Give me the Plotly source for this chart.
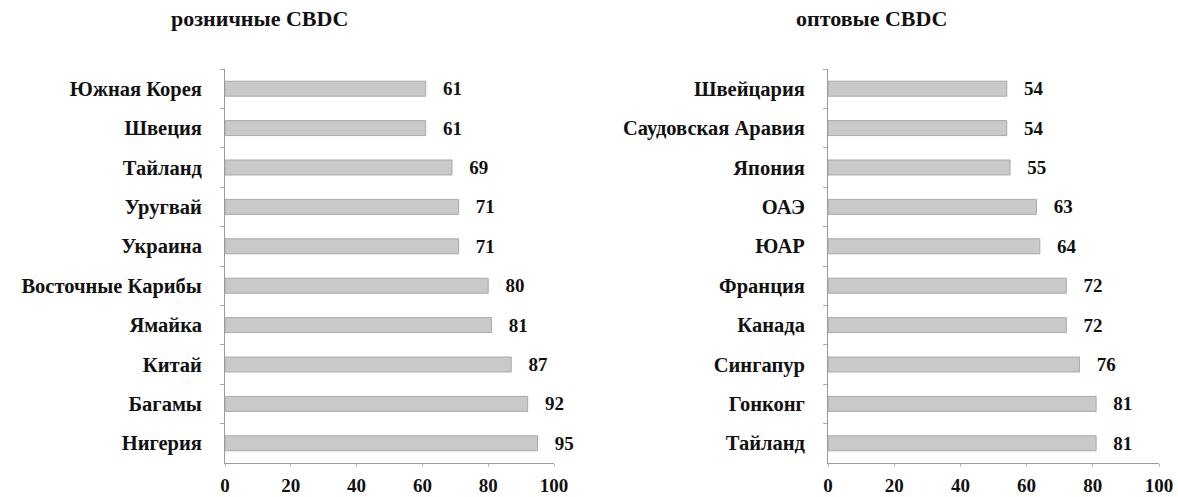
import plotly.graph_objects as go

retail_countries = ["Южная Корея", "Швеция", "Тайланд", "Уругвай", "Украина",
                    "Восточные Карибы", "Ямайка", "Китай", "Багамы", "Нигерия"]
retail_values = [61, 61, 69, 71, 71, 80, 81, 87, 92, 95]

wholesale_countries = ["Швейцария", "Саудовская Аравия", "Япония", "ОАЭ", "ЮАР",
                       "Франция", "Канада", "Сингапур", "Гонконг", "Тайланд"]
wholesale_values = [54, 54, 55, 63, 64, 72, 72, 76, 81, 81]

x_ticks = [0, 20, 40, 60, 80, 100]
titles = ["розничные CBDC", "оптовые CBDC"]

FONT = "Liberation Serif"
W, H = 1178, 497
TXT = dict(family=FONT, size=19, color="#111111", weight="bold")

fig = go.Figure()

def add_panel(cats, vals, xa, ya):
    fig.add_trace(go.Bar(
        y=cats, x=vals, orientation="h",
        xaxis=xa, yaxis=ya,
        marker=dict(color="#c9c9c9", line=dict(color="#a9a9a9", width=1)),
        width=0.38,
        text=vals,
        texttemplate="\u00a0\u00a0\u00a0%{x}",
        textposition="outside",
        constraintext="none",
        textfont=TXT,
        outsidetextfont=TXT,
        cliponaxis=False,
        showlegend=False,
        hoverinfo="skip",
    ))

add_panel(retail_countries, retail_values, "x", "y")
add_panel(wholesale_countries, wholesale_values, "x2", "y2")

ydom = [1 - 463 / H, 1 - 69 / H]
xdom1 = [225 / W, 554 / W]
xdom2 = [828 / W, 1159 / W]

xcommon = dict(range=[0, 100], tickvals=x_ticks, showgrid=False, zeroline=False,
               showline=True, linecolor="#9a9a9a", linewidth=1, automargin=False,
               ticks="outside", ticklen=3, tickcolor="#bbbbbb", ticklabelstandoff=2,
               tickfont=dict(family=FONT, size=19, color="#111111", weight="bold"))
ycommon = dict(autorange="reversed", showgrid=False, zeroline=False,
               showline=True, linecolor="#9a9a9a", linewidth=1, automargin=False,
               ticks="outside", ticklen=4, tickcolor="#aaaaaa", tickson="boundaries",
               ticklabelstandoff=18,
               tickfont=dict(family=FONT, size=20.5, color="#111111", weight="bold"))

fig.update_layout(
    width=W, height=H,
    margin=dict(l=0, r=0, t=0, b=0),
    paper_bgcolor="white", plot_bgcolor="white",
    xaxis=dict(domain=xdom1, anchor="y", **xcommon),
    yaxis=dict(domain=ydom, anchor="x", **ycommon),
    xaxis2=dict(domain=xdom2, anchor="y2", **xcommon),
    yaxis2=dict(domain=ydom, anchor="x2", **ycommon),
    annotations=[
        dict(text="<b>" + titles[0] + "</b>", x=259 / W, y=1 - 18 / H, xref="paper", yref="paper",
             showarrow=False, font=dict(family=FONT, size=22, color="#111111"),
             xanchor="center", yanchor="middle"),
        dict(text="<b>" + titles[1] + "</b>", x=871 / W, y=1 - 18 / H, xref="paper", yref="paper",
             showarrow=False, font=dict(family=FONT, size=22, color="#111111"),
             xanchor="center", yanchor="middle"),
    ],
    font=dict(family=FONT, color="#111111"),
)

fig.write_html("out.html", config={"displayModeBar": False},
               post_script="document.body.style.margin='0px';")
